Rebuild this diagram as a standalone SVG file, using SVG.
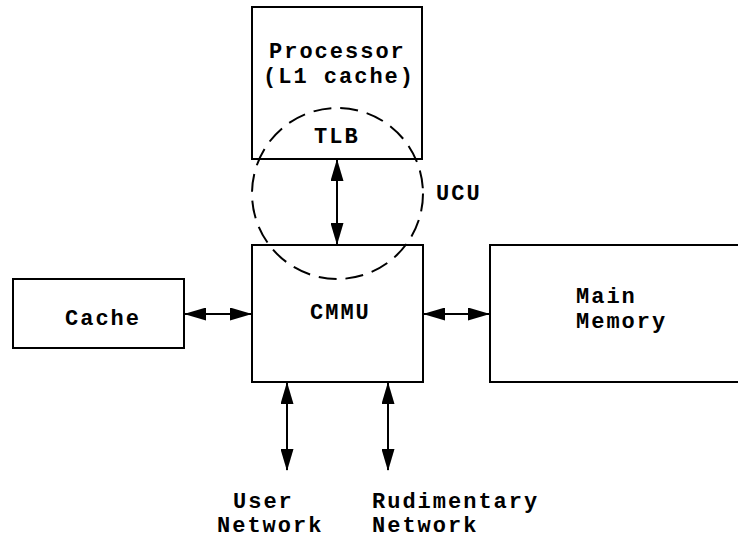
<svg xmlns="http://www.w3.org/2000/svg" width="738" height="538" viewBox="0 0 738 538">
  <style>
    .box { fill: #fff; stroke: #000; stroke-width: 2; }
    .link { stroke: #000; stroke-width: 2; fill: none; marker-start: url(#head); marker-end: url(#head); }
    .ring { fill: none; stroke: #000; stroke-width: 2; stroke-dasharray: 18 9; }
    text { font-family: "Liberation Mono", "Courier New", monospace; font-weight: bold; font-size: 22px; letter-spacing: 2px; fill: #000; }
  </style>
  <defs>
    <marker id="head" viewBox="0 0 22 13" markerWidth="22" markerHeight="13" refX="21" refY="6.5" markerUnits="userSpaceOnUse" orient="auto-start-reverse">
      <path d="M0,0 L22,6.5 L0,13 Z" fill="#000"/>
    </marker>
  </defs>
  <rect width="738" height="538" fill="#fff"/>

  <g id="processor">
    <rect class="box" x="252" y="7" width="170" height="152"/>
    <text x="269" y="58">Processor</text>
    <text x="263" y="83">(L1 cache)</text>
    <text x="314" y="143">TLB</text>
  </g>

  <g id="cmmu">
    <rect class="box" x="252" y="245" width="171" height="137"/>
    <text x="310" y="319">CMMU</text>
  </g>

  <g id="cache">
    <rect class="box" x="13" y="279" width="171" height="69"/>
    <text x="65" y="325">Cache</text>
  </g>

  <g id="main-memory">
    <rect class="box" x="490" y="245" width="260" height="137"/>
    <text x="576" y="303">Main</text>
    <text x="576" y="328">Memory</text>
  </g>

  <g id="ucu">
    <circle class="ring" cx="337.5" cy="193.5" r="85.5"/>
    <text x="436" y="200">UCU</text>
  </g>

  <g id="user-network">
    <text x="233" y="508">User</text>
    <text x="217" y="532">Network</text>
  </g>

  <g id="rudimentary-network">
    <text x="372" y="508">Rudimentary</text>
    <text x="372" y="532">Network</text>
  </g>

  <g id="connectors">
    <line class="link" x1="337" y1="160" x2="337" y2="244"/>
    <line class="link" x1="185" y1="314" x2="251" y2="314"/>
    <line class="link" x1="424" y1="314" x2="489" y2="314"/>
    <line class="link" x1="287" y1="383" x2="287" y2="470"/>
    <line class="link" x1="388" y1="383" x2="388" y2="470"/>
  </g>
</svg>
